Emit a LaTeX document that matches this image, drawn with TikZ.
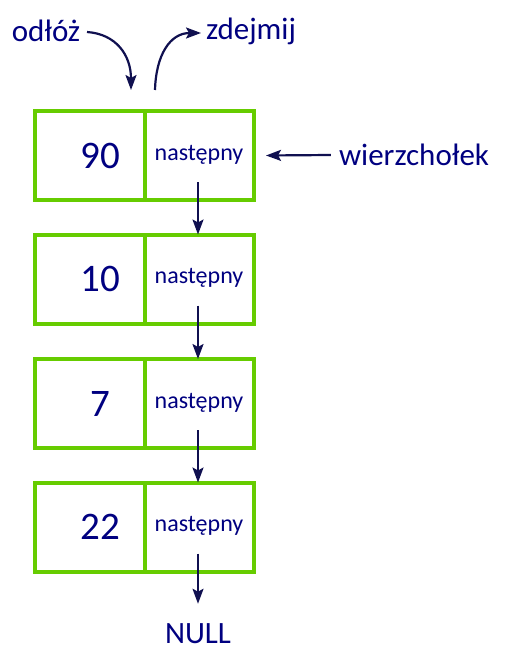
\documentclass[tikz,border=0pt]{standalone}
\usepackage{fontspec}
\setmainfont{Carlito}
\usetikzlibrary{arrows.meta,calc}
\definecolor{navytxt}{RGB}{0,0,128}
\definecolor{navyarr}{RGB}{16,16,80}
\definecolor{boxgreen}{RGB}{102,204,0}
\begin{document}
\begin{tikzpicture}[x=1pt,y=-1pt,
  cell/.style={draw=boxgreen,line width=4pt,minimum height=89pt,inner sep=0pt,outer sep=0pt},
  lcell/.style={cell,minimum width=110pt},
  rcell/.style={cell,minimum width=109pt},
  numtxt/.style={text=navytxt,font=\fontsize{39}{44}\selectfont,inner sep=0pt},
  nexttxt/.style={text=navytxt,font=\fontsize{24}{28}\selectfont,inner sep=0pt},
  lbltxt/.style={text=navytxt,font=\fontsize{31}{36}\selectfont,inner sep=0pt},
  arr/.style={draw=navyarr,line width=2.2pt,-{Stealth[length=15pt,width=11pt,inset=3pt]}}
]
\useasboundingbox (0,0) rectangle (504,658);
% boxes
\foreach \i/\y/\v in {1/155.5/90,2/279/10,3/403.5/7,4/527/22}{
  \node[lcell] (v\i) at (90,\y) {};
  \node[rcell] (n\i) at (199.5,\y) {};
  \node[numtxt] (d\i) at (100,\y) {\v};
  \node[nexttxt] (t\i) at (199,\y-1) {następny};
  \coordinate (s\i) at (198,\y+26.5);
}
% vertical arrows
\draw[arr] (s1) -- (s1 |- v2.north);
\draw[arr] (s2) -- (s2 |- v3.north);
\draw[arr] (s3) -- (s3 |- v4.north);
\node[lbltxt] (null) at (198,634) {NULL};
\draw[arr] (s4) -- ($(null.north)+(0,-20)$);
% top labels
\node[lbltxt] (push) at (46,31) {odłóż};
\node[lbltxt] (pop) at (251,31) {zdejmij};
\node[lbltxt] (top) at (414,155) {wierzchołek};
\coordinate (pushstart) at (87,32);
\coordinate (pushend) at (131,90);
\coordinate (popstart) at (155,90);
\coordinate (popend) at (201,33);
\draw[arr] (pushstart) .. controls (116,34) and (131,55) .. (pushend);
\draw[arr] (popstart) .. controls (156,55) and (170,33) .. (popend);
\draw[arr] ($(top.west)+(-8,0)$) -- ($(n1.east)+(12,0)$);
\end{tikzpicture}
\end{document}
